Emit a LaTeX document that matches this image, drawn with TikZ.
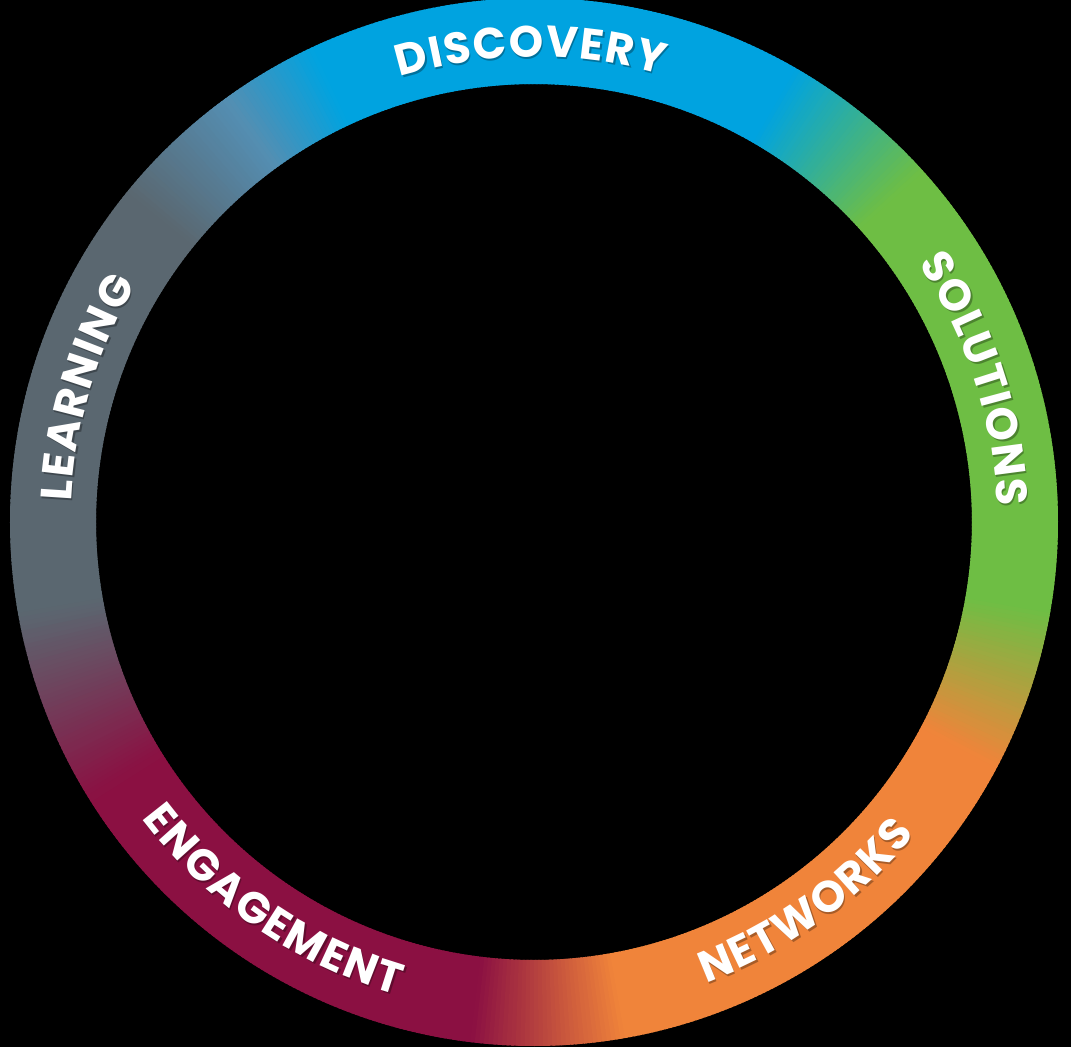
\documentclass[tikz,border=0pt]{standalone}
\usepackage{fontspec}
\setmainfont{Poppins}
\usetikzlibrary{decorations.text}
\definecolor{cblue}{RGB}{0,163,224}
\definecolor{cgreen}{RGB}{110,190,68}
\definecolor{corange}{RGB}{240,132,58}
\definecolor{cmaroon}{RGB}{139,16,66}
\definecolor{cgray}{RGB}{90,103,112}
\definecolor{csteel}{RGB}{84,142,178}
\def\ringIn{438}
\def\ringOut{524}
\newcommand\myband[4]{%
  \pgfmathtruncatemacro\nseg{2*(#2-(#1))}%
  \foreach \k in {1,...,\nseg}{%
    \pgfmathsetmacro\aS{#1+(\k-1)/2}%
    \pgfmathsetmacro\aE{#1+\k/2+0.3}%
    \pgfmathtruncatemacro\pct{100*(\k-0.5)/\nseg}%
    \colorlet{segc}{#4!\pct!#3}%
    \fill[segc] (\aS:\ringIn) arc[start angle=\aS,end angle=\aE,radius=\ringIn]
      -- (\aE:\ringOut) arc[start angle=\aE,end angle=\aS,radius=\ringOut] -- cycle;
  }}
\newcommand\lbl[1]{|\fontsize{44}{44}\selectfont\bfseries\color{white}\kern1.5bp|#1}
\newcommand\shd[1]{|\fontsize{44}{44}\selectfont\bfseries\color{black}\kern1.5bp|#1}
\tikzset{
  ringtext/.style={decorate, decoration={text along path, text align=center, text={#1}}},
  shadowlayer/.style={opacity=0.3, shift={(1.5,-2)}}
}
\begin{document}
\begin{tikzpicture}[x=1bp,y=1bp]
\useasboundingbox (-534,-525) rectangle (537,522);
\fill[black] (-534,-525) rectangle (537,522);
% gradient ring
\myband{-148}{-97}{cmaroon}{cmaroon}
\myband{-97}{-80}{cmaroon}{corange}
\myband{-80}{-28}{corange}{corange}
\myband{-28}{-10}{corange}{cgreen}
\myband{-10}{42}{cgreen}{cgreen}
\myband{42}{60}{cgreen}{cblue}
\myband{60}{115}{cblue}{cblue}
\myband{115}{126}{cblue}{csteel}
\myband{126}{141}{csteel}{cgray}
\myband{141}{190}{cgray}{cgray}
\myband{190}{212}{cgray}{cmaroon}
% shadows
\begin{scope}[shadowlayer]
\path[ringtext={\shd{DISCOVERY}}] (150.5:465) arc[start angle=150.5,end angle=30.5,radius=465];
\path[ringtext={\shd{SOLUTIONS}}] (78:463) arc[start angle=78,end angle=-42,radius=463];
\path[ringtext={\shd{LEARNING}}] (223.4:463) arc[start angle=223.4,end angle=103.4,radius=463];
\path[ringtext={\shd{NETWORKS}}] (-114.5:492) arc[start angle=-114.5,end angle=5.5,radius=492];
\path[ringtext={\shd{ENGAGEMENT}}] (175.4:492) arc[start angle=175.4,end angle=295.4,radius=492];
\end{scope}
% labels
\path[ringtext={\lbl{DISCOVERY}}] (150.5:465) arc[start angle=150.5,end angle=30.5,radius=465];
\path[ringtext={\lbl{SOLUTIONS}}] (78:463) arc[start angle=78,end angle=-42,radius=463];
\path[ringtext={\lbl{LEARNING}}] (223.4:463) arc[start angle=223.4,end angle=103.4,radius=463];
\path[ringtext={\lbl{NETWORKS}}] (-114.5:492) arc[start angle=-114.5,end angle=5.5,radius=492];
\path[ringtext={\lbl{ENGAGEMENT}}] (175.4:492) arc[start angle=175.4,end angle=295.4,radius=492];
\end{tikzpicture}
\end{document}
